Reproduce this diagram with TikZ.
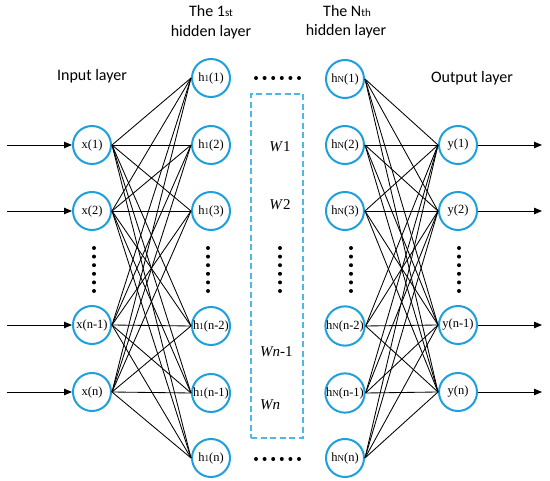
\documentclass[tikz,border=0pt]{standalone}
\usepackage{fontspec}
\setmainfont{Liberation Serif}
\newfontfamily\labelfont{Carlito}
\usetikzlibrary{arrows.meta}
\definecolor{ringblue}{HTML}{1FA0DC}
\definecolor{boxblue}{HTML}{4DB8E6}
\tikzset{
  neuron/.style={circle, draw=ringblue, line width=2pt, minimum size=38pt, inner sep=0pt, font=\fontsize{12.5}{14}\selectfont},
  layerlabel/.style={font=\labelfont\fontsize{16}{18}\selectfont, inner sep=0pt},
  wlabel/.style={font=\fontsize{15}{17}\selectfont, inner sep=0pt},
  link/.style={line width=0.85pt, black},
  ioarrow/.style={line width=0.9pt, black, -{Triangle[length=8pt,width=6.5pt]}},
  dot/.style={fill=black},
  wbox/.style={draw=boxblue, dashed, dash pattern=on 6pt off 3.5pt, line width=1.3pt, minimum width=52pt, minimum height=344pt, inner sep=0pt}
}
\newcommand{\hsub}[1]{{\fontsize{9}{10}\selectfont #1}}
\begin{document}
\begin{tikzpicture}[x=1pt,y=-1pt]
\useasboundingbox (0,0) rectangle (550,481);
% input layer
\node[neuron] (x1) at (92,145) {x(1)};
\node[neuron] (x2) at (92,211) {x(2)};
\node[neuron] (x3) at (92,325) {x(n-1)};
\node[neuron] (x4) at (92,392) {x(n)};
% first hidden layer
\node[neuron] (a1) at (211,78) {h\hsub{1}(1)};
\node[neuron] (a2) at (211,145) {h\hsub{1}(2)};
\node[neuron] (a3) at (211,211) {h\hsub{1}(3)};
\node[neuron] (a4) at (211,326) {h\hsub{1}(n-2)};
\node[neuron] (a5) at (211,393) {h\hsub{1}(n-1)};
\node[neuron] (a6) at (211,458) {h\hsub{1}(n)};
% Nth hidden layer
\node[neuron] (b1) at (345,79) {h\hsub{N}(1)};
\node[neuron] (b2) at (345,145) {h\hsub{N}(2)};
\node[neuron] (b3) at (345,211) {h\hsub{N}(3)};
\node[neuron] (b4) at (345,326) {h\hsub{N}(n-2)};
\node[neuron] (b5) at (345,393) {h\hsub{N}(n-1)};
\node[neuron] (b6) at (345,458) {h\hsub{N}(n)};
% output layer
\node[neuron] (y1) at (458,145) {y(1)};
\node[neuron] (y2) at (458,211) {y(2)};
\node[neuron] (y3) at (458,325) {y(n-1)};
\node[neuron] (y4) at (458,392) {y(n)};
% connections
\foreach \i in {1,...,4}{
  \foreach \j in {1,...,6}{
    \draw[link] (x\i.east) -- (a\j.west);
    \draw[link] (b\j.east) -- (y\i.west);
  }
}
% input / output arrows
\foreach \i/\yy in {1/145,2/211,3/325,4/392}{
  \coordinate (in\i) at (7,\yy);
  \coordinate (out\i) at (542,\yy);
  \draw[ioarrow] (in\i) -- (x\i.west);
  \draw[ioarrow] (y\i.east) -- (out\i);
}
% vertical dots
\foreach \cx in {94,208,280,351,459}{
  \foreach \k in {0,...,5}{
    \fill[dot] (\cx,{248+\k*8.6}) circle (2pt);
  }
}
% horizontal dots
\foreach \cy in {78,459}{
  \foreach \k in {0,...,5}{
    \fill[dot] ({256+\k*8.6},\cy) circle (2pt);
  }
}
% dashed weight box
\node[wbox] (wb) at (277,266) {};
\node[wlabel] (w1) at (280,147) {\textit{W}1};
\node[wlabel] (w2) at (280,205) {\textit{W}2};
\node[wlabel, anchor=west] (w3) at (260,352) {\textit{Wn}-1};
\node[wlabel, anchor=west] (w4) at (260,405) {\textit{Wn}};
% labels
\node[layerlabel] (lin) at (92,76) {Input layer};
\node[layerlabel] (l1a) at (211,11) {The 1{\fontsize{11}{12}\selectfont st}};
\node[layerlabel] (l1b) at (211,32) {hidden layer};
\node[layerlabel] (lNa) at (347,11) {The N{\fontsize{11}{12}\selectfont th}};
\node[layerlabel] (lNb) at (346,31) {hidden layer};
\node[layerlabel] (lout) at (472,78) {Output layer};
\end{tikzpicture}
\end{document}
